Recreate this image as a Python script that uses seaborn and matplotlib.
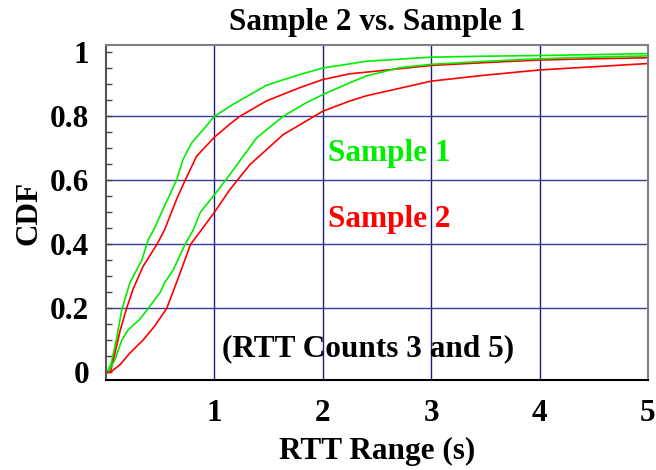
import pandas as pd
import matplotlib
matplotlib.use("Agg")
import matplotlib.pyplot as plt
import seaborn as sns
from matplotlib.ticker import MultipleLocator

# CDF curves (RTT range in seconds)
s1_c3_x = [0.0, 0.01, 0.05, 0.10, 0.145, 0.22, 0.33, 0.39, 0.44, 0.54, 0.65, 0.71, 0.79, 0.90, 1.0,
           1.17, 1.48, 1.79, 2.0, 2.25, 2.4, 3.0, 3.5, 4.0, 4.5, 5.0]
s1_c3_y = [0.0, 0.0, 0.03, 0.11, 0.195, 0.28, 0.35, 0.415, 0.445, 0.52, 0.60, 0.665, 0.717, 0.76, 0.80,
           0.837, 0.897, 0.931, 0.951, 0.964, 0.972, 0.985, 0.988, 0.99, 0.993, 0.996]

s2_c3_x = [0.0, 0.04, 0.083, 0.13, 0.19, 0.25, 0.34, 0.47, 0.54, 0.65, 0.73, 0.835, 1.0, 1.14, 1.235,
           1.48, 1.79, 2.0, 2.25, 2.4, 3.0, 3.5, 4.0, 4.5, 5.0]
s2_c3_y = [0.0, 0.0, 0.06, 0.13, 0.20, 0.26, 0.33, 0.40, 0.445, 0.54, 0.60, 0.675, 0.735, 0.775, 0.80,
           0.848, 0.89, 0.915, 0.933, 0.938, 0.959, 0.968, 0.976, 0.98, 0.983]

s1_c5_x = [0.0, 0.02, 0.083, 0.145, 0.205, 0.31, 0.39, 0.50, 0.54, 0.62, 0.73, 0.805, 0.87, 1.0, 1.14,
           1.39, 1.635, 1.85, 2.0, 2.25, 2.4, 2.71, 3.0, 3.5, 4.0, 4.5, 5.0]
s1_c5_y = [0.0, 0.0, 0.04, 0.10, 0.133, 0.165, 0.20, 0.25, 0.28, 0.32, 0.40, 0.445, 0.50, 0.555, 0.617,
           0.733, 0.80, 0.843, 0.868, 0.905, 0.926, 0.952, 0.9625, 0.972, 0.98, 0.985, 0.989]

s2_c5_x = [0.0, 0.04, 0.13, 0.22, 0.34, 0.45, 0.56, 0.65, 0.78, 0.88, 1.0, 1.14, 1.33, 1.635, 2.0,
           2.25, 2.4, 3.0, 3.48, 4.0, 4.5, 5.0]
s2_c5_y = [0.0, 0.0, 0.024, 0.06, 0.10, 0.145, 0.20, 0.28, 0.40, 0.445, 0.50, 0.57, 0.65, 0.743, 0.816,
           0.848, 0.864, 0.91, 0.928, 0.945, 0.955, 0.965]

x_ticks = [1, 2, 3, 4, 5]
y_ticks = [0, 0.2, 0.4, 0.6, 0.8, 1]
y_tick_labels = ["0", "0.2", "0.4", "0.6", "0.8", "1"]

sns.set_style("white")
plt.rcParams["font.family"] = ["Liberation Serif", "DejaVu Serif"]
plt.rcParams["font.weight"] = "bold"
plt.rcParams["text.color"] = "black"
plt.rcParams["axes.labelcolor"] = "black"

fig = plt.figure(figsize=(6.56, 4.70), dpi=100)
ax = fig.add_axes([0.1616, 0.1915, 0.8262, 0.7128])

green = "#00ee00"
red = "#ff0000"
for xs, ys, c in [(s1_c3_x, s1_c3_y, green), (s2_c3_x, s2_c3_y, red),
                  (s1_c5_x, s1_c5_y, green), (s2_c5_x, s2_c5_y, red)]:
    sns.lineplot(x=xs, y=ys, color=c, linewidth=1.2, sort=False, estimator=None, ax=ax)

ax.set_xlim(0, 5)
ax.set_ylim(-0.024, 1.023)
ax.set_xticks(x_ticks)
ax.set_yticks(y_ticks)
ax.set_yticklabels(y_tick_labels)
ax.yaxis.set_minor_locator(MultipleLocator(0.05))
fs = 22.5
ax.tick_params(axis="x", length=0, pad=14, labelsize=fs, labelcolor="black")
ax.tick_params(axis="y", which="both", direction="in", length=4, width=1, color="#444444",
               pad=12, labelsize=fs, labelcolor="black", left=True)

# grid: navy, only interior lines
for v in x_ticks[:-1]:
    ax.axvline(v, color="#1a1a8c", linewidth=1.0, zorder=0)
for h in y_ticks[1:-1]:
    ax.axhline(h, color="#3a3a9c", linewidth=1.0, zorder=0)

for side in ["top", "right"]:
    ax.spines[side].set_color("#808080")
    ax.spines[side].set_linewidth(1.5)
ax.spines["left"].set_color("#555555")
ax.spines["left"].set_linewidth(1.5)
ax.spines["bottom"].set_color("black")
ax.spines["bottom"].set_linewidth(1.5)

ax.set_title("Sample 2 vs. Sample 1", fontsize=fs, fontweight="bold", pad=11)
ax.set_xlabel("RTT Range (s)", fontsize=fs, fontweight="bold", labelpad=6)
ax.set_ylabel("CDF", fontsize=fs, fontweight="bold", labelpad=5)

ax.text(2.05, 0.66, "Sample 1", color=green, fontsize=fs, fontweight="bold", va="baseline")
ax.text(2.05, 0.455, "Sample 2", color=red, fontsize=fs, fontweight="bold", va="baseline")
ax.text(2.42, 0.05, "(RTT Counts 3 and 5)", color="black", fontsize=fs, fontweight="bold",
        ha="center", va="baseline")

fig.savefig("out.png", dpi=100)
